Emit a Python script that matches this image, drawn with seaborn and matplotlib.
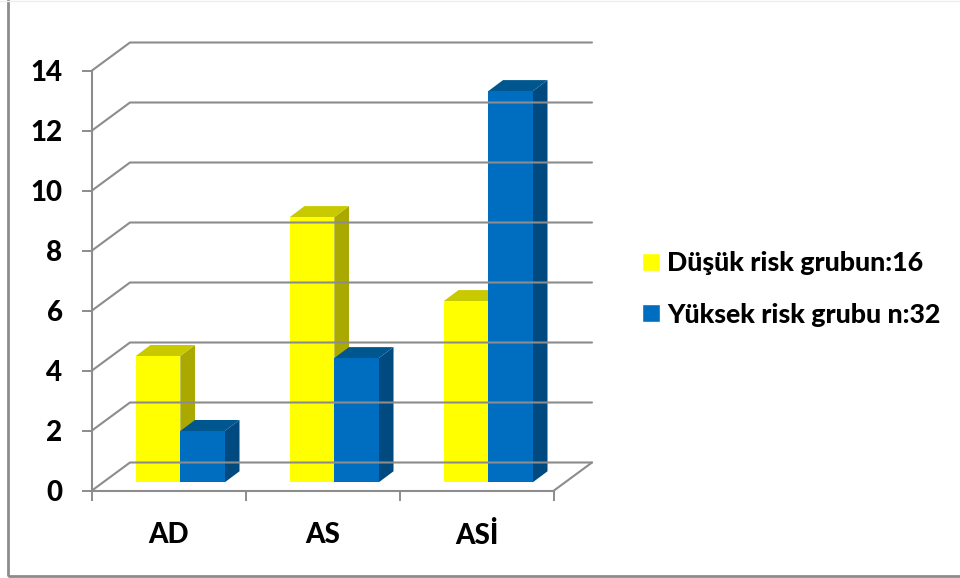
import matplotlib
matplotlib.use("Agg")
import matplotlib.pyplot as plt
import seaborn as sns
import pandas as pd
from matplotlib.lines import Line2D
from matplotlib.patches import Polygon, Rectangle
from matplotlib.transforms import Affine2D, IdentityTransform

categories = ["AD", "AS", "ASİ"]
low_risk = [4.21, 8.84, 6.04]
high_risk = [1.71, 4.14, 13.04]
series_names = ["Düşük risk grubun:16", "Yüksek risk grubu n:32"]
y_ticks = [0, 2, 4, 6, 8, 10, 12, 14]

front_colors = ["#FFFF00", "#006EC0"]
top_colors = ["#C9C900", "#00578F"]
side_colors = ["#A9A900", "#004A80"]
line_color = "#8C8C8C"

W, H = 960, 578
sns.set_theme(style="white")
plt.rcParams["font.family"] = ["Lato", "DejaVu Sans"]
plt.rcParams["font.weight"] = "black"

df = pd.DataFrame({
    "cat": categories * 2,
    "val": low_risk + high_risk,
    "series": [series_names[0]] * 3 + [series_names[1]] * 3,
})

fig = plt.figure(figsize=(W / 100, H / 100), dpi=100, facecolor="white")
ax = fig.add_axes([92 / W, (H - 490.5) / H, (554 - 92) / W, 420 / H], facecolor="none")

sns.barplot(data=df, x="cat", y="val", hue="series", order=categories,
            hue_order=series_names, palette=front_colors, width=0.578, gap=0,
            saturation=1, errorbar=None, ax=ax)
ax.set_xlim(-0.5, 2.5)
ax.set_ylim(0, 14)
ax.set_xlabel("")
ax.set_ylabel("")
ax.set_yticks(y_ticks)
ax.set_xticks([0, 1, 2])
ax.set_xticklabels(categories)
ax.set_xticks([-0.5, 0.5, 1.5, 2.5], minor=True)
ax.tick_params(axis="x", which="major", length=0, pad=23, labelsize=20, labelcolor="black")
ax.tick_params(axis="x", which="minor", length=7.2, width=1.4, color=line_color, bottom=True)
ax.tick_params(axis="y", length=7.2, width=1.4, color=line_color, left=True, pad=14,
               labelsize=20, labelcolor="black")
for s in ("top", "right"):
    ax.spines[s].set_visible(False)
for s in ("left", "bottom"):
    ax.spines[s].set_color(line_color)
    ax.spines[s].set_linewidth(1.5)

fig.canvas.draw()
px = IdentityTransform()


def to_px(x, y):
    return ax.transData.transform((x, y))


# 3D walls: depth offset in display pixels (y up)
wall_dx, wall_dy = 38, 28
for v in y_ticks:
    p0 = to_px(-0.5, v)
    p1 = to_px(2.5, v)
    xs = [p0[0], p0[0] + wall_dx, p1[0] + wall_dx]
    ys = [p0[1], p0[1] + wall_dy, p1[1] + wall_dy]
    fig.add_artist(Line2D(xs, ys, transform=px, color=line_color, lw=1.5, zorder=1))
p1 = to_px(2.5, 0)
fig.add_artist(Line2D([p1[0], p1[0] + wall_dx], [p1[1], p1[1] + wall_dy], transform=px,
                      color=line_color, lw=1.5, zorder=1))

# Bars sit mid-depth; extrude them from the barplot's own rectangles
bar_dx, bar_dy = 11.3, 8.2
depth_dx, depth_dy = 14.7, 11
shift = Affine2D().translate(bar_dx, bar_dy)
for i, cont in enumerate(ax.containers):
    base_z = 3 + 2 * i
    for rect in cont:
        bx0, by0 = to_px(rect.get_x(), rect.get_y())
        bx1, by1 = to_px(rect.get_x() + rect.get_width(), rect.get_y() + rect.get_height())
        bx0 += bar_dx; bx1 += bar_dx; by0 += bar_dy; by1 += bar_dy
        side = [(bx1, by0), (bx1 + depth_dx, by0 + depth_dy),
                (bx1 + depth_dx, by1 + depth_dy), (bx1, by1)]
        top = [(bx0, by1), (bx0 + depth_dx, by1 + depth_dy),
               (bx1 + depth_dx, by1 + depth_dy), (bx1, by1)]
        ax.add_patch(Polygon(side, closed=True, transform=px, facecolor=side_colors[i],
                             edgecolor="none", zorder=base_z, clip_on=False))
        ax.add_patch(Polygon(top, closed=True, transform=px, facecolor=top_colors[i],
                             edgecolor="none", zorder=base_z, clip_on=False))
        rect.set_transform(ax.transData + shift)
        rect.set_zorder(base_z + 1)
        rect.set_clip_on(False)
        rect.set_edgecolor("none")

handles, labels = ax.get_legend_handles_labels()
if ax.get_legend():
    ax.get_legend().remove()
fig.legend(handles, labels, loc="center left", bbox_to_anchor=(618 / W, (H - 289) / H),
           frameon=False, handlelength=0.66, handleheight=0.66,
           handletextpad=0.27, labelspacing=1.03, labelcolor="black",
           prop={"family": "Lato", "weight": "black", "size": 19.3})

# Outer chart frame
fig.add_artist(Rectangle((7.8, H - 575.5), W + 20, 575.5 + 20, transform=px,
                         fill=False, edgecolor=line_color, lw=2, zorder=0))
fig.add_artist(Line2D([0, W], [H - 0.5, H - 0.5], transform=px, color="#EDEDED", lw=1, zorder=0))

fig.savefig("out.png", dpi=100)
